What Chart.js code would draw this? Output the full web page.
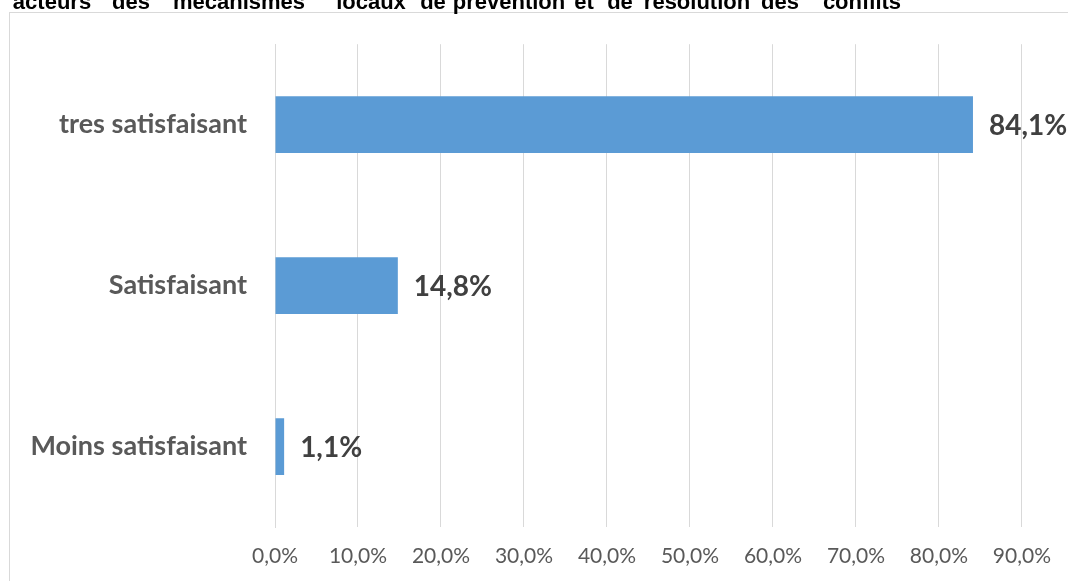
<!DOCTYPE html>
<html>
<head>
<meta charset="utf-8">
<script src="https://cdn.jsdelivr.net/npm/chart.js@4/dist/chart.umd.min.js"></script>
<style>
  html, body { margin: 0; padding: 0; background: #fff; overflow: hidden; }
  #wrap { position: relative; width: 1068px; height: 581px; }
  #title { position: absolute; left: 0; top: -10px; height: 23px; width: 1068px; font-family: "Liberation Sans", Arial, sans-serif; font-weight: bold; font-size: 22px; line-height: 23px; color: #000; white-space: nowrap; }
  #title span { position: absolute; top: 0; transform: translateX(-50%); }
  canvas { position: absolute; left: 0; top: 0; }
</style>
</head>
<body>
<div id="wrap">
  <canvas id="c" width="1068" height="581"></canvas>
  <div id="title"></div>
</div>
<script>
const categories = ["tres satisfaisant", "Satisfaisant", "Moins satisfaisant"];
const values = [84.1, 14.8, 1.1];
const tickValues = [0, 10, 20, 30, 40, 50, 60, 70, 80, 90];
const titleWords = ["acteurs", "des", "mécanismes", "locaux", "de", "prévention", "et", "de", "résolution", "des", "conflits"];
const titleWordCenter = [52, 131, 239, 371, 433, 509, 584, 620, 697, 780, 862];

// justified title line (partly cut off at the top of the picture)
const titleEl = document.getElementById('title');
titleWords.forEach((w, i) => {
  const s = document.createElement('span');
  s.textContent = w;
  s.style.left = titleWordCenter[i] + 'px';
  titleEl.appendChild(s);
});

const fmt = v => v.toFixed(1).replace('.', ',') + '%';

const framePlugin = {
  id: 'frame',
  beforeDraw(chart) {
    const ctx = chart.ctx;
    ctx.save();
    ctx.strokeStyle = '#d9d9d9';
    ctx.lineWidth = 1;
    ctx.strokeRect(9.5, 12.5, 1200, 700);
    ctx.restore();
  }
};

const labelPlugin = {
  id: 'barLabels',
  afterDatasetsDraw(chart) {
    const ctx = chart.ctx;
    const meta = chart.getDatasetMeta(0);
    ctx.save();
    ctx.font = 'bold 28px Lato, "Open Sans", sans-serif';
    ctx.fillStyle = '#404040';
    ctx.textAlign = 'left';
    ctx.textBaseline = 'middle';
    meta.data.forEach((bar, i) => {
      ctx.fillText(fmt(chart.data.datasets[0].data[i]), bar.x + 16, bar.y + 1);
    });
    ctx.restore();
  }
};

new Chart(document.getElementById('c'), {
  type: 'bar',
  data: {
    labels: categories,
    datasets: [{
      data: values,
      backgroundColor: '#5B9BD5',
      borderWidth: 0,
      barPercentage: 0.353,
      categoryPercentage: 1.0
    }]
  },
  options: {
    indexAxis: 'y',
    responsive: false,
    animation: false,
    layout: { padding: { top: 40, right: 46, left: 0, bottom: 0 } },
    plugins: { legend: { display: false }, tooltip: { enabled: false } },
    scales: {
      x: {
        min: 0, max: 90,
        afterBuildTicks: s => { s.ticks = tickValues.map(v => ({ value: v })); },
        afterFit: s => { s.height = 54; },
        grid: { color: '#d9d9d9', lineWidth: 1, drawTicks: false },
        border: { display: false },
        ticks: {
          padding: 17,
          color: '#595959',
          font: { family: 'Lato, "Open Sans", sans-serif', size: 21 },
          callback: v => fmt(v)
        }
      },
      y: {
        afterFit: s => { s.width = 275; },
        grid: { display: false, drawTicks: false },
        border: { display: true, color: '#d9d9d9' },
        ticks: {
          padding: 28,
          color: '#595959',
          font: { family: 'Lato, "Open Sans", sans-serif', size: 27, weight: 'bold' }
        }
      }
    }
  },
  plugins: [framePlugin, labelPlugin]
});
</script>
</body>
</html>
